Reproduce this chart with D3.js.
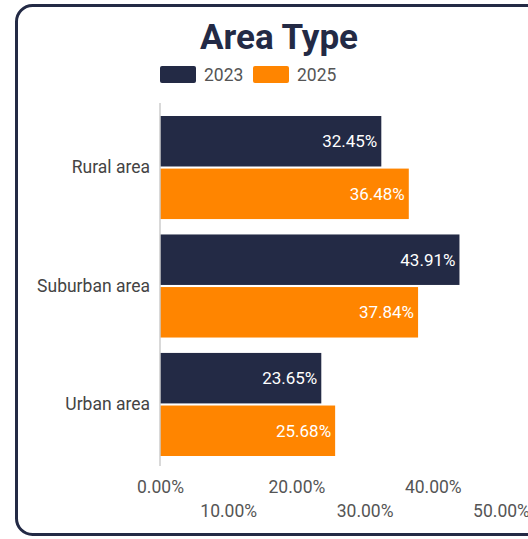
<!DOCTYPE html>
<html>
<head>
<meta charset="utf-8">
<script src="https://cdn.jsdelivr.net/npm/d3@7"></script>
<style>
  html, body { margin: 0; padding: 0; background: #fff; }
  svg { display: block; font-family: Roboto, "Noto Sans", sans-serif; }
</style>
</head>
<body>
<svg id="chart" width="528" height="539"></svg>
<script>
// Share of respondents by area type, 2023 vs 2025
const categories = ["Rural area", "Suburban area", "Urban area"];
const seriesNames = ["2023", "2025"];
const values2023 = [32.45, 43.91, 23.65];
const values2025 = [36.48, 37.84, 25.68];
const tickValues = [0, 10, 20, 30, 40, 50];

const colors = { "2023": "#232a45", "2025": "#ff8500" };
const seriesValues = { "2023": values2023, "2025": values2025 };

const svg = d3.select("#chart");

// Card frame
svg.append("rect")
  .attr("x", 16.5).attr("y", 5.5)
  .attr("width", 540).attr("height", 529)
  .attr("rx", 16).attr("ry", 16)
  .attr("fill", "#fff")
  .attr("stroke", "#232a45")
  .attr("stroke-width", 3);

// Title
svg.append("text")
  .attr("x", 279).attr("y", 49)
  .attr("text-anchor", "middle")
  .attr("font-size", 35).attr("font-weight", 700)
  .attr("fill", "#232a45")
  .text("Area Type");

// Legend
const legend = svg.append("g");
const legendX = { "2023": 160, "2025": 253 };
seriesNames.forEach(s => {
  legend.append("rect")
    .attr("x", legendX[s]).attr("y", 66)
    .attr("width", 36).attr("height", 17)
    .attr("rx", 2)
    .attr("fill", colors[s]);
  legend.append("text")
    .attr("x", legendX[s] + 44).attr("y", 81)
    .attr("font-size", 17.5).attr("fill", "#555")
    .text(s);
});

// Scales
const x = d3.scaleLinear().domain([0, 50]).range([160, 501]);
const y = d3.scaleBand().domain(categories).range([108.3, 463.7])
  .paddingInner(0.13).paddingOuter(0.065);
const ySub = d3.scaleBand().domain(seriesNames).range([0, y.bandwidth()]).paddingInner(0.04);

// Bars
const groups = svg.append("g").selectAll("g")
  .data(categories)
  .join("g")
  .attr("transform", d => `translate(0,${y(d)})`);

groups.selectAll("rect")
  .data((c, i) => seriesNames.map(s => ({ s, v: seriesValues[s][i] })))
  .join("rect")
  .attr("x", x(0))
  .attr("y", d => ySub(d.s))
  .attr("width", d => x(d.v) - x(0))
  .attr("height", ySub.bandwidth())
  .attr("fill", d => colors[d.s]);

groups.selectAll("text.val")
  .data((c, i) => seriesNames.map(s => ({ s, v: seriesValues[s][i] })))
  .join("text")
  .attr("class", "val")
  .attr("x", d => x(d.v) - 4)
  .attr("y", d => ySub(d.s) + ySub.bandwidth() / 2)
  .attr("dy", "0.35em")
  .attr("text-anchor", "end")
  .attr("font-size", 17)
  .attr("fill", "#fff")
  .text(d => d.v.toFixed(2) + "%");

// Category axis
const yAxis = svg.append("g")
  .attr("transform", `translate(${x(0)},0)`)
  .call(d3.axisLeft(y).tickSize(0).tickPadding(10));
yAxis.select(".domain").remove();
yAxis.selectAll("text").attr("font-size", 17.5).attr("fill", "#444")
  .attr("font-family", "Roboto, 'Noto Sans', sans-serif");

svg.append("line")
  .attr("x1", x(0)).attr("x2", x(0))
  .attr("y1", 103).attr("y2", 466)
  .attr("stroke", "#ccc").attr("stroke-width", 1.5);

// Value axis with staggered labels
const xAxis = svg.append("g")
  .attr("transform", "translate(0,466)")
  .call(d3.axisBottom(x).tickValues(tickValues).tickSize(0)
    .tickFormat(d => d3.format(".2f")(d) + "%"));
xAxis.select(".domain").remove();
xAxis.selectAll("text")
  .attr("font-size", 17.5).attr("fill", "#555")
  .attr("font-family", "Roboto, 'Noto Sans', sans-serif")
  .attr("y", (d, i) => i % 2 === 0 ? 15 : 39)
  .attr("dy", "0.71em");
</script>
</body>
</html>
